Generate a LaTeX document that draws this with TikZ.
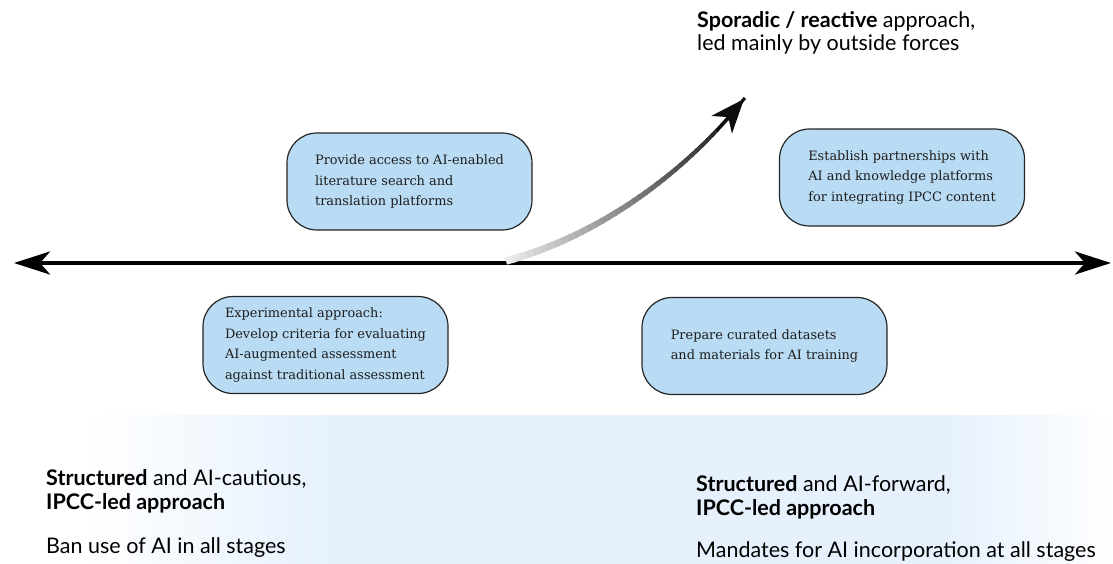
\documentclass[tikz,border=0pt]{standalone}
\usepackage{fontspec}
\newfontfamily\boxfont{DejaVu Serif}
\newfontfamily\labfont{Lato}
\usetikzlibrary{arrows.meta,shadings}
\definecolor{boxblue}{HTML}{B9DBF3}
\definecolor{bgblue}{HTML}{E6F1FD}
\definecolor{txt}{HTML}{1E1E1E}
\tikzset{
  optbox/.style={draw=black!85, line width=1.2pt, fill=boxblue, rounded corners=30pt,
    minimum width=245pt, minimum height=97pt, align=left, text=txt,
    font=\boxfont\fontsize{12.9}{20.8}\selectfont, inner sep=0pt},
  lab/.style={anchor=base west, align=left, text=black, inner sep=0pt,
    font=\labfont\fontsize{21.5}{23.5}\selectfont},
  axisarrow/.style={line width=4pt, {Stealth[length=36pt,width=23pt,inset=10pt]}-{Stealth[length=36pt,width=23pt,inset=10pt]}}
}
\begin{document}
\begin{tikzpicture}[x=1pt,y=-1pt]
\useasboundingbox (0,0) rectangle (1113,564);
% background band
\shade[left color=white, right color=bgblue] (83,415) rectangle (330,564);
\fill[bgblue] (329.5,415) rectangle (950.5,564);
\shade[left color=bgblue, right color=white] (950,415) rectangle (1113,564);

% main axis
\coordinate (L) at (14,263);
\coordinate (R) at (1111,263);
\draw[axisarrow] (L) -- (R);

% gradient curved arrow
\coordinate (cs) at (506,261);
\coordinate (c1) at (600,236);
\coordinate (c2) at (688,170);
\coordinate (ce) at (744,99);
\foreach \i in {0,...,39}{
  \pgfmathsetmacro\ta{\i/40}
  \pgfmathsetmacro\tb{(\i+1.2)/40}
  \pgfmathsetmacro\cc{8+92*\ta}
  \pgfmathsetmacro\ww{7.5-4.5*\ta}
  \path (cs) .. controls (c1) and (c2) .. (ce) coordinate[pos=\ta] (sa) coordinate[pos=\tb] (sb);
  \draw[line width=\ww pt, color=black!\cc] (sa) -- (sb);
}
\path (cs) .. controls (c1) and (c2) .. (ce) coordinate[pos=0.85] (pe);
\draw[line width=2.5pt, -{Stealth[length=34pt,width=27pt,inset=10pt]}, black!95] (pe) -- (ce);

% boxes
\node[optbox] (b1) at (409.5,181.5) {Provide access to AI-enabled\\literature search and\\translation platforms};
\node[optbox] (b2) at (902,177.5) {Establish partnerships with\\AI and knowledge platforms\\for integrating IPCC content};
\node[optbox] (b3) at (325.5,345) {Experimental approach:\\Develop criteria for evaluating\\AI-augmented assessment\\against traditional assessment};
\node[optbox] (b4) at (764.5,346) {Prepare curated datasets\\and materials for AI training};

% labels (base = baseline of last line)
\node[lab] (top) at (697,51) {\textbf{Sporadic / reactive} approach,\\led mainly by outside forces};
\node[lab] (bl1) at (46,509) {\textbf{Structured} and AI-cautious,\\\textbf{IPCC-led approach}};
\node[lab] (bl2) at (46,553) {Ban use of AI in all stages};
\node[lab] (br1) at (696,515) {\textbf{Structured} and AI-forward,\\\textbf{IPCC-led approach}};
\node[lab] (br2) at (696,557) {Mandates for AI incorporation at all stages};
\end{tikzpicture}
\end{document}
